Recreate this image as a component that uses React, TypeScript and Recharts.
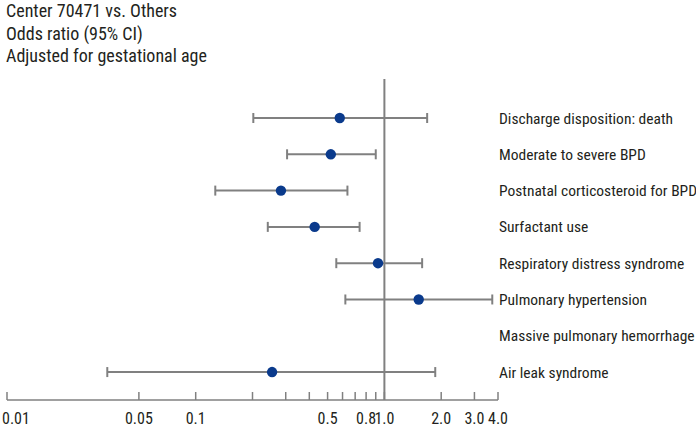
import React from 'react';
import { ScatterChart, Scatter, XAxis, YAxis, ErrorBar, ReferenceLine } from 'recharts';

const titleLines = ['Center 70471 vs. Others', 'Odds ratio (95% CI)', 'Adjusted for gestational age'];

const outcomes = [
  'Discharge disposition: death',
  'Moderate to severe BPD',
  'Postnatal corticosteroid for BPD',
  'Surfactant use',
  'Respiratory distress syndrome',
  'Pulmonary hypertension',
  'Massive pulmonary hemorrhage',
  'Air leak syndrome',
];
const oddsRatio = [0.58, 0.52, 0.283, 0.427, 0.925, 1.52, null, 0.254];
const ciLow = [0.202, 0.305, 0.127, 0.241, 0.556, 0.621, null, 0.034];
const ciHigh = [1.685, 0.9, 0.637, 0.739, 1.585, 3.73, null, 1.86];

const xTicks = [0.01, 0.05, 0.1, 0.2, 0.3, 0.4, 0.5, 0.6, 0.7, 0.8, 0.9, 1, 2, 3, 4];
const xLabels: Record<string, string> = {
  '0.01': '0.01',
  '0.05': '0.05',
  '0.1': '0.1',
  '0.5': '0.5',
  '0.8': '0.8',
  '1': '1.0',
  '2': '2.0',
  '3': '3.0',
  '4': '4.0',
};

const FONT = '"Liberation Sans Narrow", "Arial Narrow", "Roboto Condensed", sans-serif';
const GREY = '#808080';
const TEXT = '#231f20';
const NAVY = '#0a3a8c';

const points = outcomes
  .map((name, i) => ({ name, row: i, or: oddsRatio[i], low: ciLow[i], high: ciHigh[i] }))
  .filter((d) => d.or != null)
  .map((d) => ({ row: d.row, or: d.or as number, err: [(d.or as number) - (d.low as number), (d.high as number) - (d.or as number)] }));

const XTick = (props: any) => {
  const { x, y, payload } = props;
  const label = xLabels[String(payload.value)];
  const first = payload.value === 0.01;
  return (
    <g>
      <line x1={x} x2={x} y1={y - 8} y2={y} stroke={GREY} strokeWidth={1.5} />
      {label && (
        <text
          x={first ? x - 5 : x}
          y={y + 24}
          textAnchor={first ? 'start' : 'middle'}
          fontSize={16}
          fontFamily={FONT}
          fill={TEXT}
        >
          {label}
        </text>
      )}
    </g>
  );
};

const YTick = (props: any) => {
  const { y, payload } = props;
  return (
    <text x={499} y={y + 5.5} textAnchor="start" fontSize={15.5} fontFamily={FONT} fill={TEXT}>
      {outcomes[payload.value]}
    </text>
  );
};

export default function App() {
  return (
    <div style={{ position: 'absolute', left: 0, top: 0, width: 696, height: 427, background: '#fff' }}>
      <div style={{ position: 'absolute', left: 6, top: 0, fontFamily: FONT, fontSize: 18, color: TEXT, lineHeight: '22.5px' }}>
        {titleLines.map((t) => (
          <div key={t}>{t}</div>
        ))}
      </div>
      <ScatterChart width={696} height={427} margin={{ top: 79, right: 0, left: 7, bottom: 0 }}>
        <XAxis
          type="number"
          dataKey="or"
          scale="log"
          domain={[0.01, 4]}
          ticks={xTicks}
          interval={0}
          allowDataOverflow
          height={27}
          tickSize={0}
          tickMargin={0}
          tickLine={false}
          tick={<XTick />}
          axisLine={{ stroke: GREY, strokeWidth: 1.5 }}
        />
        <YAxis
          type="number"
          dataKey="row"
          orientation="right"
          reversed
          domain={[-1.075, 7.77]}
          ticks={[0, 1, 2, 3, 4, 5, 6, 7]}
          interval={0}
          width={198}
          axisLine={false}
          tickLine={false}
          tick={<YTick />}
        />
        <ReferenceLine x={1} stroke={GREY} strokeWidth={2} />
        <Scatter
          data={points}
          isAnimationActive={false}
          shape={(p: any) => <circle cx={p.cx} cy={p.cy} r={5.2} fill={NAVY} />}
        >
          <ErrorBar dataKey="err" direction="x" width={5} stroke={GREY} strokeWidth={2} />
        </Scatter>
      </ScatterChart>
    </div>
  );
}
